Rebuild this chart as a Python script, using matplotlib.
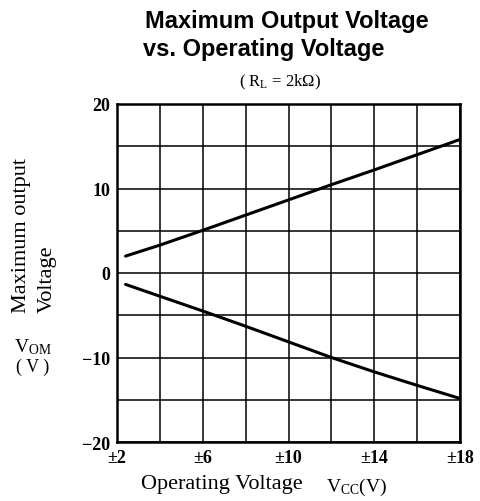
import matplotlib
matplotlib.use("Agg")
import matplotlib.pyplot as plt

plt.rcParams["mathtext.fontset"] = "custom"
plt.rcParams["mathtext.rm"] = "Liberation Serif"
plt.rcParams["mathtext.it"] = "Liberation Serif:italic"
plt.rcParams["mathtext.bf"] = "Liberation Serif:bold"

# operating voltage (±V) and max output voltage
vcc = [2.4, 4, 6, 8, 10, 12, 14, 16, 18]
vom_pos = [2.0, 3.3, 5.05, 6.85, 8.65, 10.45, 12.2, 14.0, 15.8]
vom_neg = [-1.35, -2.75, -4.5, -6.3, -8.15, -10.0, -11.7, -13.3, -14.85]

x_grid = [2, 4, 6, 8, 10, 12, 14, 16, 18]
x_labels = ["±2", "", "±6", "", "±10", "", "±14", "", "±18"]
y_grid = [-20, -15, -10, -5, 0, 5, 10, 15, 20]
y_labels = ["−20", "", "−10", "", "0", "", "10", "", "20"]

W, H = 480, 502
fig = plt.figure(figsize=(W / 100, H / 100), dpi=100)


def fx(px):
    return px / W


def fy(py):
    return 1 - py / H


ax = fig.add_axes([fx(117), fy(443), fx(460) - fx(117), fy(105) - fy(443)])

ax.plot(vcc, vom_pos, color="black", lw=2.2, solid_capstyle="round")
ax.plot(vcc, vom_neg, color="black", lw=2.2, solid_capstyle="round")

ax.set_xlim(2, 18)
ax.set_ylim(-20, 20)
ax.set_xticks(x_grid)
ax.set_xticklabels(x_labels)
ax.set_yticks(y_grid)
ax.set_yticklabels(y_labels)
ax.grid(True, color="black", lw=1.1)
ax.tick_params(length=0, pad=5)
for lab in ax.get_xticklabels() + ax.get_yticklabels():
    lab.set_fontfamily("Liberation Serif")
    lab.set_fontweight("bold")
    lab.set_fontsize(13)
for sp in ax.spines.values():
    sp.set_linewidth(1.8)

# titles
fig.text(fx(145), fy(28), "Maximum Output Voltage", family="Liberation Sans",
         weight="bold", fontsize=17, ha="left", va="baseline")
fig.text(fx(143), fy(56), "vs. Operating Voltage", family="Liberation Sans",
         weight="bold", fontsize=17, ha="left", va="baseline")
fig.text(fx(280), fy(82), r"( $\mathrm{R_L}$ = 2kΩ)", family="Liberation Serif",
         fontsize=12, ha="center", va="center")

# y axis label
fig.text(fx(22), fy(313), "Maximum output", family="Liberation Serif",
         fontsize=16, rotation=90, ha="center", va="bottom")
fig.text(fx(47), fy(313), "Voltage", family="Liberation Serif",
         fontsize=16, rotation=90, ha="center", va="bottom")
fig.text(fx(33), fy(347), r"$\mathrm{V_{OM}}$", fontsize=14,
         ha="center", va="center")
fig.text(fx(33), fy(367), "( V )", family="Liberation Serif",
         fontsize=13, ha="center", va="center")

# x axis label
fig.text(fx(222), fy(485), "Operating Voltage", family="Liberation Serif",
         fontsize=16, ha="center", va="center")
fig.text(fx(357), fy(487), r"$\mathrm{V_{CC}}$(V)", family="Liberation Serif",
         fontsize=14, ha="center", va="center")

fig.savefig("out.png", dpi=100)
